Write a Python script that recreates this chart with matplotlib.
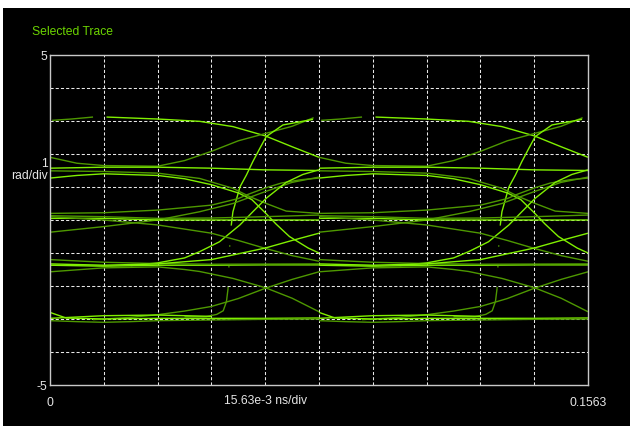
import numpy as np
import matplotlib
matplotlib.use("Agg")
import matplotlib.pyplot as plt
from matplotlib.patches import Rectangle

plt.rcParams['font.family'] = ['Liberation Sans', 'DejaVu Sans']

# one symbol period of the eye, x in grid divisions (0..5), y in rad
top_short = [(0.04, 3.02), (0.4, 3.06), (0.8, 3.12)]
top_fall = [(1.05, 3.12), (2.0, 3.06), (2.78, 2.99), (3.4, 2.83), (4.0, 2.55),
            (4.5, 2.22), (5.0, 1.9)]
upper_rise = [(0.0, 1.9), (0.5, 1.72), (1.0, 1.65), (2.0, 1.63), (2.5, 1.8),
              (3.0, 2.08), (3.5, 2.4), (4.0, 2.62), (4.5, 2.84), (4.9, 3.1)]
steep_foot = [(2.5, -2.93), (2.9, -2.93), (3.1, -2.86), (3.22, -2.75), (3.28, -2.47),
              (3.31, -2.07)]
steep_mid = [(3.31, -2.07), (3.34, -0.8), (3.37, -0.15)]
steep_top = [(3.37, -0.15), (3.4, 0.25), (3.53, 1.0), (3.65, 1.36), (3.77, 1.77),
             (3.9, 2.17), (4.02, 2.53), (4.33, 2.88), (4.89, 3.05)]
upper_flat = [(0.0, 1.57), (1.0, 1.6), (2.0, 1.6), (3.0, 1.57), (4.0, 1.52), (5.0, 1.5)]
upper_fall = [(0.0, 1.49), (1.0, 1.47), (2.0, 1.42), (2.78, 1.26), (3.4, 0.96),
              (3.71, 0.71), (4.02, 0.5), (4.39, 0.27), (5.0, 0.2)]
upper_drop = [(0.0, 1.27), (0.5, 1.35), (1.0, 1.4), (2.0, 1.35), (2.5, 1.25),
              (3.0, 1.07), (3.5, 0.82), (3.75, 0.62), (4.0, 0.22), (4.2, -0.12),
              (4.45, -0.5), (4.8, -0.85), (5.0, -1.0)]
mid_rise = [(0.0, 0.2), (1.0, 0.22), (2.0, 0.3), (3.0, 0.45), (3.5, 0.65), (3.67, 0.77),
            (4.0, 0.97), (4.3, 1.12), (4.66, 1.22), (5.0, 1.27)]
mid_rise2 = [(0.0, -0.37), (1.0, -0.2), (2.0, 0.0), (2.78, 0.25), (3.4, 0.5),
             (4.0, 0.86), (4.5, 1.14), (5.0, 1.3)]
low_rise = [(1.5, -1.38), (2.0, -1.3), (2.5, -1.15), (2.78, -0.96), (3.15, -0.66),
            (3.53, -0.15), (3.77, 0.25), (4.02, 0.66), (4.39, 1.14), (4.7, 1.38),
            (5.0, 1.52)]
mid_flat = [(0.0, 0.05), (1.0, 0.05), (2.0, 0.0), (3.0, 0.0), (4.0, 0.0), (5.0, 0.0)]
mid_flat2 = [(0.0, 0.13), (1.0, 0.1), (2.0, 0.05), (3.0, 0.06), (4.0, 0.1), (5.0, 0.15)]
mid_fall = [(0.0, 0.1), (1.0, 0.0), (2.0, -0.15), (3.0, -0.4), (3.5, -0.62),
            (4.0, -0.86), (4.5, -1.08), (5.0, -1.25)]
lower_flat = [(0.0, -1.37), (1.0, -1.4), (2.0, -1.37), (3.0, -1.37), (4.0, -1.36),
              (5.0, -1.36)]
lower_flat2 = [(0.0, -1.2), (1.0, -1.28), (2.0, -1.32), (3.0, -1.34), (5.0, -1.33)]
lower_rise = [(0.0, -1.33), (1.0, -1.37), (2.0, -1.33), (3.0, -1.2), (4.0, -0.85),
              (4.5, -0.62), (5.0, -0.4)]
lower_fall = [(0.0, -1.57), (1.0, -1.45), (2.0, -1.42), (2.5, -1.5), (2.78, -1.56),
              (3.4, -1.77), (4.0, -2.05), (4.5, -2.37), (5.0, -2.78)]
bottom_rise = [(0.8, -3.02), (1.5, -2.95), (2.0, -2.87), (2.5, -2.76), (3.0, -2.62),
               (3.5, -2.38), (4.0, -2.07), (4.5, -1.8), (5.0, -1.57)]
bottom_flat = [(0.0, -2.8), (0.3, -2.97), (1.0, -3.0), (2.0, -2.98), (3.0, -2.98),
               (4.0, -2.98), (5.0, -2.97)]
bottom_flat2 = [(0.0, -3.05), (0.5, -3.08), (1.0, -3.1), (1.5, -3.08), (2.0, -3.05),
                (3.0, -3.03), (4.0, -3.01), (5.0, -3.0)]
bottom_flat3 = [(0.0, -2.98), (1.0, -2.9), (2.0, -2.88), (3.0, -2.92)]

period_starts = [0, 5]

BRIGHT = '#80f000'
DARK = '#4e9800'
SOLID = '-'
SPARSE = (0, (1, 14))

traces = [
    (top_short, DARK, SOLID), (top_fall, BRIGHT, SOLID), (upper_rise, DARK, SOLID),
    (steep_foot, DARK, SOLID), (steep_mid, DARK, SPARSE), (steep_top, BRIGHT, SOLID),
    (upper_flat, BRIGHT, SOLID), (upper_fall, DARK, SOLID), (upper_drop, BRIGHT, SOLID),
    (mid_rise, DARK, SOLID), (mid_rise2, DARK, SOLID), (low_rise, BRIGHT, SOLID),
    (mid_flat, BRIGHT, SOLID), (mid_flat2, DARK, SOLID), (mid_fall, DARK, SOLID),
    (lower_flat, BRIGHT, SOLID), (lower_flat2, DARK, SOLID), (lower_rise, BRIGHT, SOLID),
    (lower_fall, DARK, SOLID), (bottom_rise, DARK, SOLID), (bottom_flat, BRIGHT, SOLID),
    (bottom_flat2, DARK, SOLID), (bottom_flat3, BRIGHT, SOLID),
]

fig = plt.figure(figsize=(6.3, 4.26), dpi=100, facecolor='white')
fig.add_artist(Rectangle((3 / 630, 0), 627 / 630, 418 / 426, transform=fig.transFigure,
                         facecolor='black', edgecolor='none', zorder=-5))
ax = fig.add_axes([50 / 630, 41 / 426, 538 / 630, 330 / 426])
ax.set_facecolor('black')

for start in period_starts:
    for pts, col, ls in traces:
        xs = np.array([p[0] for p in pts]) + start
        ys = np.array([p[1] for p in pts])
        ax.plot(xs, ys, color=col, lw=1.0, linestyle=ls, solid_capstyle='butt')

ax.set_xlim(0, 10)
ax.set_ylim(-5, 5)

# grid every division
ax.set_xticks(np.arange(1, 10), minor=True)
ax.set_yticks(np.arange(-4, 5), minor=True)
ax.grid(which='minor', color='#e8e8e8', lw=0.75, linestyle=(0, (3, 2)))
ax.tick_params(which='both', length=0)

ax.set_xticks([0, 10])
ax.set_xticklabels(['0', '0.1563'])
ax.set_yticks([-5, 5])
ax.set_yticklabels(['-5', '5'])
ax.tick_params(axis='x', pad=9, colors='#e6e6e6', labelsize=8.7)
ax.tick_params(axis='y', pad=2, colors='#e6e6e6', labelsize=8.7)

for sp in ax.spines.values():
    sp.set_color('#c8c8c8')
    sp.set_linewidth(1.0)

ax.text(0.401, -0.048, '15.63e-3 ns/div', transform=ax.transAxes, ha='center',
        va='center', color='#e6e6e6', fontsize=8.7)
fig.text(48 / 630, 1 - 170 / 426, '1\nrad/div', ha='right', va='center',
         multialignment='right', color='#e6e6e6', fontsize=8.7, linespacing=1.0)
fig.text(32 / 630, 1 - 32 / 426, 'Selected Trace', ha='left', va='center',
         color='#6cd400', fontsize=8.7)

fig.savefig('out.png', dpi=100, facecolor='white')
